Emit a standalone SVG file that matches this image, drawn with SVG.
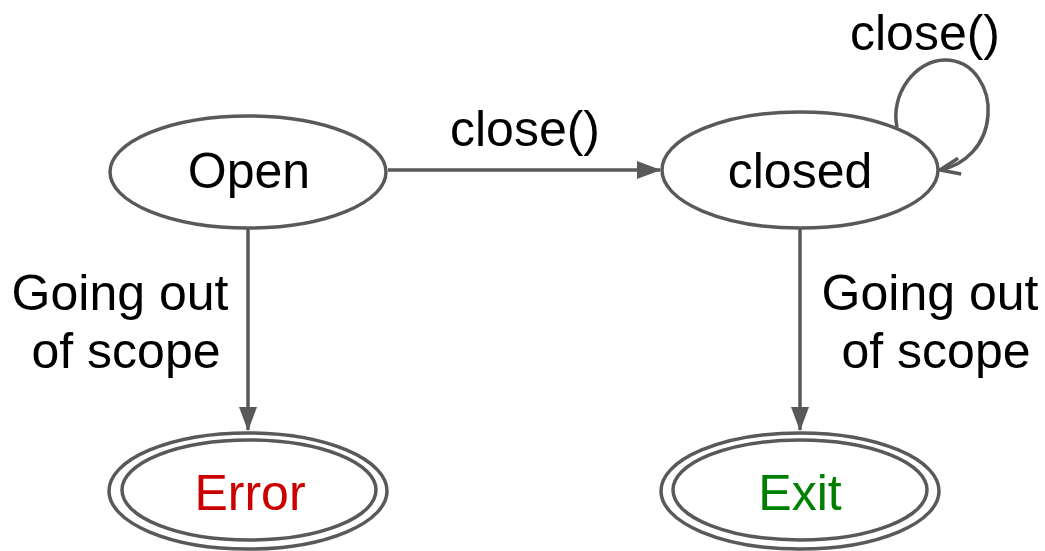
<svg xmlns="http://www.w3.org/2000/svg" width="1045" height="551" viewBox="0 0 1045 551">
  <style>
    .node { fill: #ffffff; stroke: #595959; stroke-width: 3.5; }
    .edge { fill: none; stroke: #595959; stroke-width: 3.5; }
    text { font-family: "Liberation Sans", Arial, sans-serif; font-size: 50px; fill: #000000; }
    .mid { text-anchor: middle; }
  </style>
  <defs>
    <marker id="openArrow" viewBox="0 0 24 20" refX="22" refY="10" markerWidth="24" markerHeight="20" orient="auto" markerUnits="userSpaceOnUse">
      <path d="M2,2 L22,10 L2,18" fill="none" stroke="#595959" stroke-width="3.5"/>
    </marker>
    <marker id="solidArrow" viewBox="0 0 24 20" refX="23" refY="10" markerWidth="24" markerHeight="20" orient="auto" markerUnits="userSpaceOnUse">
      <path d="M0,1 L24,10 L0,19 Z" fill="#595959"/>
    </marker>
  </defs>

  <!-- transitions -->
  <g id="connectors">
    <line class="edge" x1="388" y1="170" x2="660" y2="170" marker-end="url(#solidArrow)"/>
    <text class="mid" x="525" y="146">close()</text>

    <path class="edge" d="M897,127 C890,95 915,60 945,60 C975,60 990,90 988,115 C986,145 965,165 940,170" marker-end="url(#openArrow)"/>
    <text class="mid" x="925" y="50">close()</text>

    <line class="edge" x1="248" y1="228" x2="248" y2="430" marker-end="url(#solidArrow)"/>
    <text class="mid" x="120" y="310">Going out</text>
    <text class="mid" x="126" y="368">of scope</text>

    <line class="edge" x1="800" y1="228" x2="800" y2="430" marker-end="url(#solidArrow)"/>
    <text class="mid" x="930" y="310">Going out</text>
    <text class="mid" x="936" y="368">of scope</text>
  </g>

  <g id="open">
    <ellipse class="node" cx="248" cy="172" rx="138" ry="56"/>
    <text class="mid" x="249" y="188">Open</text>
  </g>

  <g id="closed">
    <ellipse class="node" cx="800" cy="170" rx="138" ry="58"/>
    <text class="mid" x="800" y="188">closed</text>
  </g>

  <g id="error">
    <ellipse class="node" cx="248" cy="491" rx="139" ry="58"/>
    <ellipse class="node" cx="249" cy="490" rx="127" ry="50"/>
    <text class="mid" x="250" y="510" style="fill:#cc0000">Error</text>
  </g>

  <g id="exit">
    <ellipse class="node" cx="800" cy="491" rx="139" ry="58"/>
    <ellipse class="node" cx="800" cy="490" rx="127" ry="50"/>
    <text class="mid" x="800" y="510" style="fill:#008000">Exit</text>
  </g>
</svg>
